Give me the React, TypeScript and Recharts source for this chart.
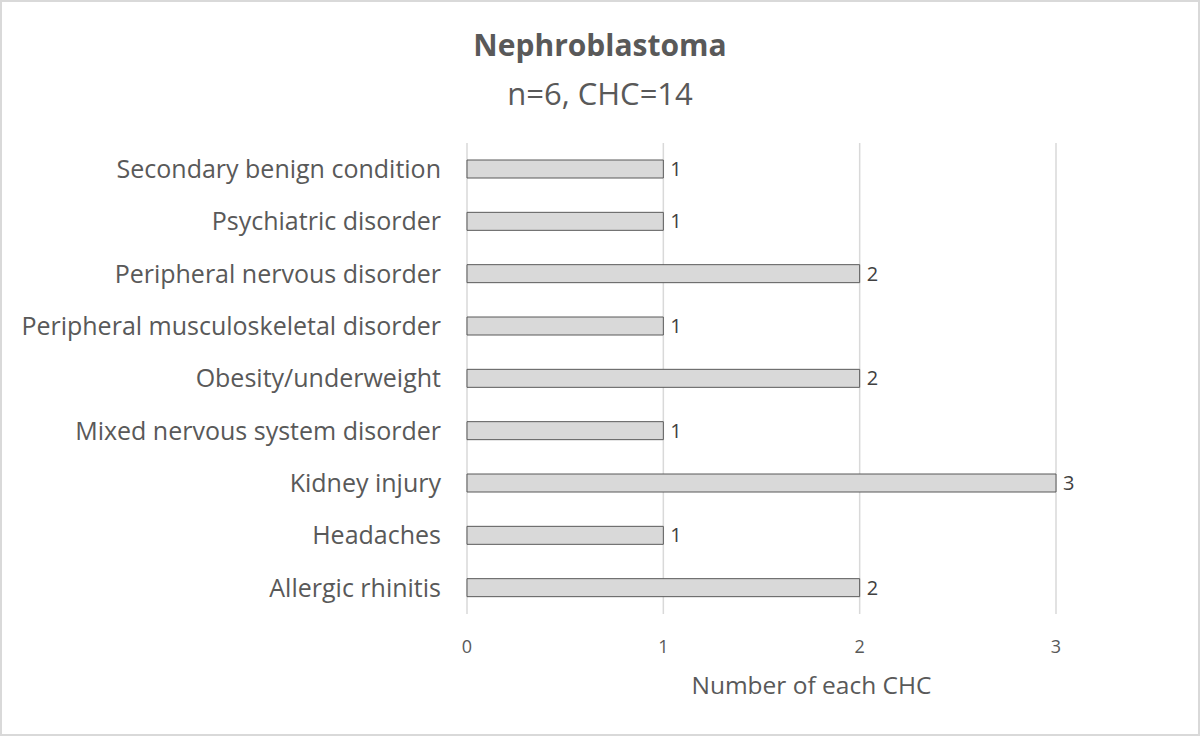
import React from "react";
import { BarChart, Bar, XAxis, YAxis, CartesianGrid, LabelList } from "recharts";

const CATEGORIES = [
  "Secondary benign condition",
  "Psychiatric disorder",
  "Peripheral nervous disorder",
  "Peripheral musculoskeletal disorder",
  "Obesity/underweight",
  "Mixed nervous system disorder",
  "Kidney injury",
  "Headaches",
  "Allergic rhinitis",
];
const COUNTS = [1, 1, 2, 1, 2, 1, 3, 1, 2];
const X_TICKS = [0, 1, 2, 3];

const TEXT = "#595959";
const FONT = "'Open Sans', Lato, sans-serif";

const data = CATEGORIES.map((name, i) => ({ name, value: COUNTS[i] }));

export default function App() {
  return (
    <div style={{ position: "absolute", left: 0, top: 0, width: 1200, height: 736, background: "#fff", fontFamily: FONT }}>
      <div style={{ position: "absolute", top: 24, width: 1200, textAlign: "center", fontSize: 30, lineHeight: "42px", fontWeight: 700, color: TEXT }}>
        Nephroblastoma
      </div>
      <div style={{ position: "absolute", top: 72, width: 1200, textAlign: "center", fontSize: 31, lineHeight: "42px", color: TEXT }}>
        n=6, CHC=14
      </div>
      <BarChart
        width={1200}
        height={736}
        data={data}
        layout="vertical"
        margin={{ top: 143, right: 144, bottom: 42, left: 0 }}
        barCategoryGap={0}
      >
        <CartesianGrid horizontal={false} stroke="#d9d9d9" strokeWidth={1.5} />
        <XAxis
          type="number"
          domain={[0, 3]}
          ticks={X_TICKS}
          axisLine={false}
          tickLine={false}
          tickMargin={20}
          height={80}
          tick={{ fontSize: 18, fill: TEXT, fontFamily: FONT }}
          label={{ value: "Number of each CHC", position: "insideBottom", offset: 0, dx: 50, fontSize: 24.5, fill: TEXT, fontFamily: FONT }}
        />
        <YAxis
          type="category"
          dataKey="name"
          width={467}
          axisLine={false}
          tickLine={false}
          tickMargin={20}
          interval={0}
          tick={{ fontSize: 25, fill: TEXT, fontFamily: FONT }}
        />
        <Bar dataKey="value" fill="#d9d9d9" stroke="#595959" strokeWidth={1} barSize={18} isAnimationActive={false}>
          <LabelList dataKey="value" position="right" offset={7} style={{ fontSize: 20, fill: "#404040", fontFamily: FONT }} />
        </Bar>
      </BarChart>
      <div style={{ position: "absolute", left: 0, top: 0, width: 1200, height: 736, boxSizing: "border-box", border: "2px solid #d9d9d9", pointerEvents: "none" }} />
    </div>
  );
}
